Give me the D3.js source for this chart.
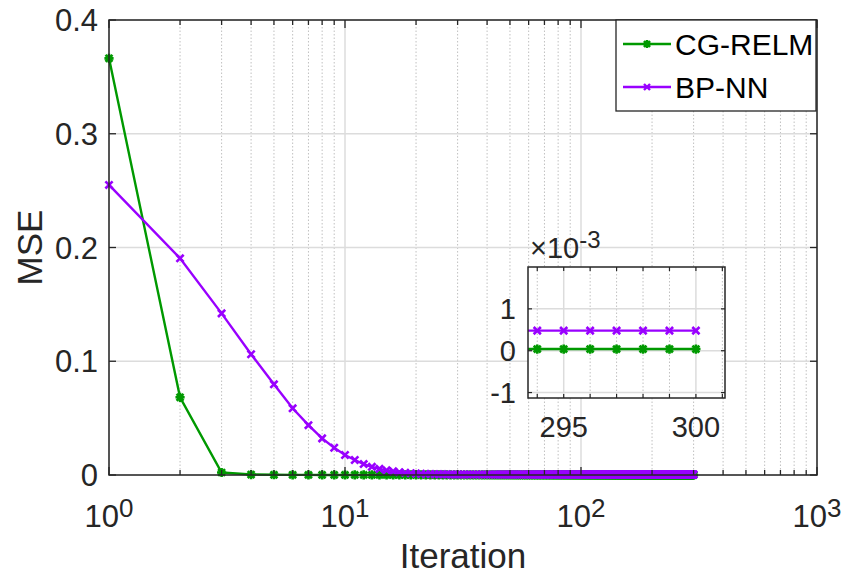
<!DOCTYPE html>
<html>
<head>
<meta charset="utf-8">
<script src="https://cdn.jsdelivr.net/npm/d3@7"></script>
<style>
	html, body { margin: 0; padding: 0; background: #ffffff; }
	svg { display: block; font-family: "Liberation Sans", Arial, Helvetica, sans-serif; }
</style>
</head>
<body>
<div id="chart"></div>
<script>
// iterations 1..300 (x categories)
var iterations = d3.range(1, 301);

// CG-RELM mse; flat afterwards (see inset)
var cgHead = [0.3663, 0.0683, 0.0022, 0.0004, 0.0002, 0.0001, 0.00008, 0.00006, 0.00005];
var cgPlateau = 0.00004;

// BP-NN mse
var bpHead = [0.2550, 0.1905, 0.1421, 0.1062, 0.0797, 0.0586, 0.0438, 0.0322, 0.0240, 0.0176,
              0.0132, 0.0096, 0.0072, 0.0054, 0.0041, 0.0032, 0.0025, 0.0019, 0.0015, 0.0012,
              0.0010, 0.00090, 0.00080, 0.00070, 0.00065, 0.00060, 0.00056, 0.00053, 0.00051, 0.00050];
var bpPlateau = 0.00048;

var seriesNames = ["CG-RELM", "BP-NN"];
var seriesColors = ["#009900", "#9900ff"];

var yTicks = [0, 0.1, 0.2, 0.3, 0.4];
var xDecades = [1, 10, 100, 1000];
var xExponents = ["0", "1", "2", "3"];

// inset (zoom on the last iterations, values in 1e-3)
var insetIter = [293, 294, 295, 296, 297, 298, 299, 300];
var insetMajor = [295, 300];
var insetMinor = [294, 296, 297, 298, 299, 301];
var insetYTicks = [-1, 0, 1];

function fullSeries(head, plateau)
{
	return iterations.map(function(it, i) {
		return i < head.length ? head[i] : plateau;
	});
}

var cgValues = fullSeries(cgHead, cgPlateau);
var bpValues = fullSeries(bpHead, bpPlateau);

var W = 857, H = 575;
var ax = { left: 109, right: 817, top: 20, bottom: 475 };
var ins = { left: 528, right: 725, top: 267, bottom: 398 };

var axisColor = "#262626";
var majorGrid = "#dcdcdc";
var minorGrid = "#c0c0c0";

var svg = d3.select("#chart").append("svg")
	.attr("width", W)
	.attr("height", H);

var x = d3.scaleLog().domain([1, 1000]).range([ax.left, ax.right]);
var y = d3.scaleLinear().domain([0, 0.4]).range([ax.bottom, ax.top]);

var xi = d3.scaleLinear().domain([293.65, 301.1]).range([ins.left, ins.right]);
var yi = d3.scaleLinear().domain([-1.13, 2]).range([ins.bottom, ins.top]);

// minor log positions 2..9 in each decade
var xMinor = [];
xDecades.slice(0, 3).forEach(function(d) {
	for (var k = 2; k <= 9; k++) xMinor.push(d * k);
});

function markerPath(kind, s)
{
	var a = s * 0.75;
	if (kind === "x")
		return "M" + (-a) + "," + (-a) + "L" + a + "," + a + "M" + (-a) + "," + a + "L" + a + "," + (-a);
	return "M" + (-s) + ",0L" + s + ",0M0," + (-s) + "L0," + s +
		"M" + (-a) + "," + (-a) + "L" + a + "," + a + "M" + (-a) + "," + a + "L" + a + "," + (-a);
}

// ---------- main axes ----------
var grid = svg.append("g");

grid.selectAll("line.xminor").data(xMinor).enter().append("line")
	.attr("x1", function(d) { return x(d); })
	.attr("x2", function(d) { return x(d); })
	.attr("y1", ax.top).attr("y2", ax.bottom)
	.attr("stroke", minorGrid).attr("stroke-width", 1)
	.attr("stroke-dasharray", "1.5,2");

grid.selectAll("line.xmajor").data(xDecades).enter().append("line")
	.attr("x1", function(d) { return x(d); })
	.attr("x2", function(d) { return x(d); })
	.attr("y1", ax.top).attr("y2", ax.bottom)
	.attr("stroke", majorGrid).attr("stroke-width", 1.5);

grid.selectAll("line.ymajor").data(yTicks).enter().append("line")
	.attr("x1", ax.left).attr("x2", ax.right)
	.attr("y1", function(d) { return y(d); })
	.attr("y2", function(d) { return y(d); })
	.attr("stroke", majorGrid).attr("stroke-width", 1.5);

function drawSeries(g, xs, ys, xData, yData, color, kind, size)
{
	var line = d3.line()
		.x(function(d, i) { return xs(xData[i]); })
		.y(function(d) { return ys(d); });

	g.append("path")
		.datum(yData)
		.attr("d", line)
		.attr("fill", "none")
		.attr("stroke", color)
		.attr("stroke-width", 2.4);

	g.selectAll(null).data(yData).enter().append("path")
		.attr("transform", function(d, i) { return "translate(" + xs(xData[i]) + "," + ys(d) + ")"; })
		.attr("d", markerPath(kind, size))
		.attr("fill", "none")
		.attr("stroke", color)
		.attr("stroke-width", 2.6);
}

var plot = svg.append("g");
drawSeries(plot, x, y, iterations, cgValues, seriesColors[0], "*", 4.6);
drawSeries(plot, x, y, iterations, bpValues, seriesColors[1], "x", 4.8);

// box
svg.append("rect")
	.attr("x", ax.left).attr("y", ax.top)
	.attr("width", ax.right - ax.left).attr("height", ax.bottom - ax.top)
	.attr("fill", "none").attr("stroke", axisColor).attr("stroke-width", 1.5);

var ticks = svg.append("g").attr("stroke", axisColor).attr("stroke-width", 1.3);

yTicks.forEach(function(t) {
	ticks.append("line").attr("x1", ax.left).attr("x2", ax.left + 7).attr("y1", y(t)).attr("y2", y(t));
	ticks.append("line").attr("x1", ax.right).attr("x2", ax.right - 7).attr("y1", y(t)).attr("y2", y(t));
});
xDecades.forEach(function(t) {
	ticks.append("line").attr("x1", x(t)).attr("x2", x(t)).attr("y1", ax.bottom).attr("y2", ax.bottom - 8);
	ticks.append("line").attr("x1", x(t)).attr("x2", x(t)).attr("y1", ax.top).attr("y2", ax.top + 8);
});
xMinor.forEach(function(t) {
	ticks.append("line").attr("x1", x(t)).attr("x2", x(t)).attr("y1", ax.bottom).attr("y2", ax.bottom - 5);
	ticks.append("line").attr("x1", x(t)).attr("x2", x(t)).attr("y1", ax.top).attr("y2", ax.top + 5);
});

// y tick labels
svg.selectAll("text.ytick").data(yTicks).enter().append("text")
	.attr("x", ax.left - 11)
	.attr("y", function(d) { return y(d); })
	.attr("dy", "0.36em")
	.attr("text-anchor", "end")
	.attr("fill", axisColor)
	.style("font-size", "31px")
	.text(function(d) { return d === 0 ? "0" : d3.format(".1f")(d); });

// x tick labels 10^n
xDecades.forEach(function(d, i) {
	var t = svg.append("text")
		.attr("x", x(d))
		.attr("y", 527)
		.attr("text-anchor", "middle")
		.attr("fill", axisColor)
		.style("font-size", "31px");
	t.append("tspan").text("10");
	t.append("tspan").attr("dy", -10).style("font-size", "26px").text(xExponents[i]);
});

// axis labels
svg.append("text")
	.attr("x", (ax.left + ax.right) / 2)
	.attr("y", 568)
	.attr("text-anchor", "middle")
	.attr("fill", axisColor)
	.style("font-size", "35px")
	.text("Iteration");

svg.append("text")
	.attr("transform", "translate(42," + ((ax.top + ax.bottom) / 2) + ") rotate(-90)")
	.attr("text-anchor", "middle")
	.attr("fill", axisColor)
	.style("font-size", "35px")
	.text("MSE");

// ---------- inset ----------
var inset = svg.append("g");

inset.append("rect")
	.attr("x", ins.left).attr("y", ins.top)
	.attr("width", ins.right - ins.left).attr("height", ins.bottom - ins.top)
	.attr("fill", "#ffffff");

inset.selectAll("line.iminor").data(insetMinor).enter().append("line")
	.attr("x1", function(d) { return xi(d); })
	.attr("x2", function(d) { return xi(d); })
	.attr("y1", ins.top).attr("y2", ins.bottom)
	.attr("stroke", minorGrid).attr("stroke-width", 1)
	.attr("stroke-dasharray", "1.5,2");

inset.selectAll("line.imajor").data(insetMajor).enter().append("line")
	.attr("x1", function(d) { return xi(d); })
	.attr("x2", function(d) { return xi(d); })
	.attr("y1", ins.top).attr("y2", ins.bottom)
	.attr("stroke", majorGrid).attr("stroke-width", 1.5);

inset.selectAll("line.iy").data(insetYTicks).enter().append("line")
	.attr("x1", ins.left).attr("x2", ins.right)
	.attr("y1", function(d) { return yi(d); })
	.attr("y2", function(d) { return yi(d); })
	.attr("stroke", majorGrid).attr("stroke-width", 1.5);

svg.append("clipPath").attr("id", "insetClip")
	.append("rect")
	.attr("x", ins.left).attr("y", ins.top)
	.attr("width", ins.right - ins.left).attr("height", ins.bottom - ins.top);

var insetPlot = inset.append("g").attr("clip-path", "url(#insetClip)");
var cgInset = insetIter.map(function(it) { return cgValues[it - 1] * 1000; });
var bpInset = insetIter.map(function(it) { return bpValues[it - 1] * 1000; });
drawSeries(insetPlot, xi, yi, insetIter, cgInset, seriesColors[0], "*", 4.6);
drawSeries(insetPlot, xi, yi, insetIter, bpInset, seriesColors[1], "x", 4.8);

inset.append("rect")
	.attr("x", ins.left).attr("y", ins.top)
	.attr("width", ins.right - ins.left).attr("height", ins.bottom - ins.top)
	.attr("fill", "none").attr("stroke", axisColor).attr("stroke-width", 1.5);

var iticks = inset.append("g").attr("stroke", axisColor).attr("stroke-width", 1.2);
insetYTicks.forEach(function(t) {
	iticks.append("line").attr("x1", ins.left).attr("x2", ins.left + 4).attr("y1", yi(t)).attr("y2", yi(t));
	iticks.append("line").attr("x1", ins.right).attr("x2", ins.right - 4).attr("y1", yi(t)).attr("y2", yi(t));
});
insetMajor.concat(insetMinor).forEach(function(t) {
	iticks.append("line").attr("x1", xi(t)).attr("x2", xi(t)).attr("y1", ins.bottom).attr("y2", ins.bottom - 4);
	iticks.append("line").attr("x1", xi(t)).attr("x2", xi(t)).attr("y1", ins.top).attr("y2", ins.top + 4);
});

inset.selectAll("text.iy").data(insetYTicks).enter().append("text")
	.attr("x", ins.left - 12)
	.attr("y", function(d) { return yi(d); })
	.attr("dy", "0.36em")
	.attr("text-anchor", "end")
	.attr("fill", axisColor)
	.style("font-size", "29px")
	.text(function(d) { return String(d); });

inset.selectAll("text.ix").data(insetMajor).enter().append("text")
	.attr("x", function(d) { return xi(d); })
	.attr("y", 437)
	.attr("text-anchor", "middle")
	.attr("fill", axisColor)
	.style("font-size", "29px")
	.text(function(d) { return String(d); });

// exponent label x10^-3
var expo = inset.append("text")
	.attr("x", ins.left + 2)
	.attr("y", 258)
	.attr("fill", axisColor)
	.style("font-size", "29px");
expo.append("tspan").text("\u00d710");
expo.append("tspan").attr("dy", -10).style("font-size", "24px").text("-3");

// ---------- legend ----------
var lg = { left: 616, top: 20, right: 816, bottom: 111 };
var legend = svg.append("g");

legend.append("rect")
	.attr("x", lg.left).attr("y", lg.top)
	.attr("width", lg.right - lg.left).attr("height", lg.bottom - lg.top)
	.attr("fill", "#ffffff").attr("stroke", axisColor).attr("stroke-width", 1.3);

var legendKinds = ["*", "x"];
seriesNames.forEach(function(name, i) {
	var ly = 44 + i * 43;
	legend.append("line")
		.attr("x1", 623).attr("x2", 671).attr("y1", ly).attr("y2", ly)
		.attr("stroke", seriesColors[i]).attr("stroke-width", 2.4);
	legend.append("path")
		.attr("transform", "translate(647," + ly + ")")
		.attr("d", markerPath(legendKinds[i], 4))
		.attr("fill", "none").attr("stroke", seriesColors[i]).attr("stroke-width", 2.4);
	legend.append("text")
		.attr("x", 675).attr("y", ly)
		.attr("dy", "0.36em")
		.attr("fill", "#000000")
		.style("font-size", "30px")
		.text(name);
});
</script>
</body>
</html>
